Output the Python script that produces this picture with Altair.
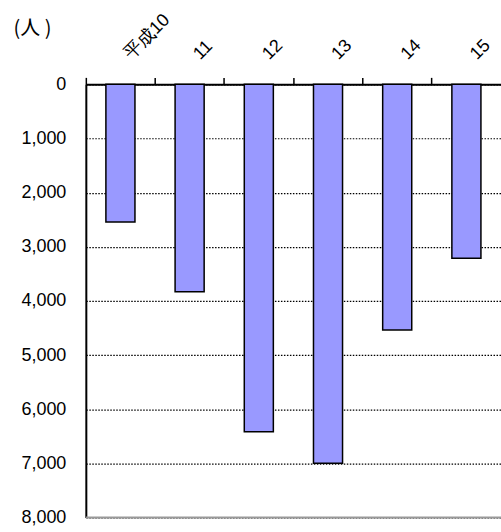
import altair as alt
import pandas as pd

# Annual counts (persons), Heisei 10 to 15
years = ["平成10", "11", "12", "13", "14", "15"]
persons = [2540, 3830, 6415, 7000, 4535, 3210]
y_ticks = [0, 1000, 2000, 3000, 4000, 5000, 6000, 7000, 8000]

df = pd.DataFrame({"year": years, "persons": persons})
FONT = "Liberation Sans"

x_enc = alt.X(
    "year:N",
    sort=years,
    scale=alt.Scale(paddingInner=0, paddingOuter=0),
    axis=alt.Axis(
        orient="top",
        title=None,
        bandPosition=0,
        labelAngle=-45,
        labelAlign="left",
        labelBaseline="middle",
        labelOffset=7,
        labelPadding=21,
        labelFont=FONT,
        labelFontSize=18,
        labelColor="black",
        tickSize=7,
        tickWidth=1.5,
        tickColor="black",
        domainColor="black",
        domainWidth=2,
        grid=False,
    ),
)

y_enc = alt.Y(
    "persons:Q",
    scale=alt.Scale(domain=[0, 8000], reverse=True, nice=False),
    axis=alt.Axis(
        values=y_ticks,
        format=",.0f",
        title="(人 )",
        titleAngle=0,
        titleAlign="left",
        titleBaseline="top",
        titleX=-73,
        titleY=-66,
        titleFont="Noto Sans CJK JP",
        titleFontSize=20,
        titleFontWeight="normal",
        titleColor="black",
        labelFont=FONT,
        labelFontSize=18,
        labelColor="black",
        labelPadding=20,
        tickSize=0,
        domainColor="black",
        domainWidth=2,
        grid=True,
        gridColor="black",
        gridWidth=1.2,
        gridDash=[1.5, 1.5],
    ),
)

bars = alt.Chart(df).mark_bar(
    width=alt.RelativeBandSize(0.42),
    color="#9999FF",
    stroke="black",
    strokeWidth=1.5,
).encode(x=x_enc, y=y_enc)

floor = alt.Chart(pd.DataFrame({"v": [8000]})).mark_rule(
    color="#999999", strokeWidth=2
).encode(y=alt.Y("v:Q", scale=alt.Scale(domain=[0, 8000], reverse=True, nice=False)))

chart = (
    alt.layer(floor, bars)
    .properties(
        width=416,
        height=434,
        autosize=alt.AutoSizeParams(type="none"),
        padding={"left": 86, "top": 84, "right": 0, "bottom": 20},
    )
    .configure_view(stroke=None)
    .configure(background="white")
)

chart.save("out.html", embed_options={"renderer": "svg", "actions": False})
